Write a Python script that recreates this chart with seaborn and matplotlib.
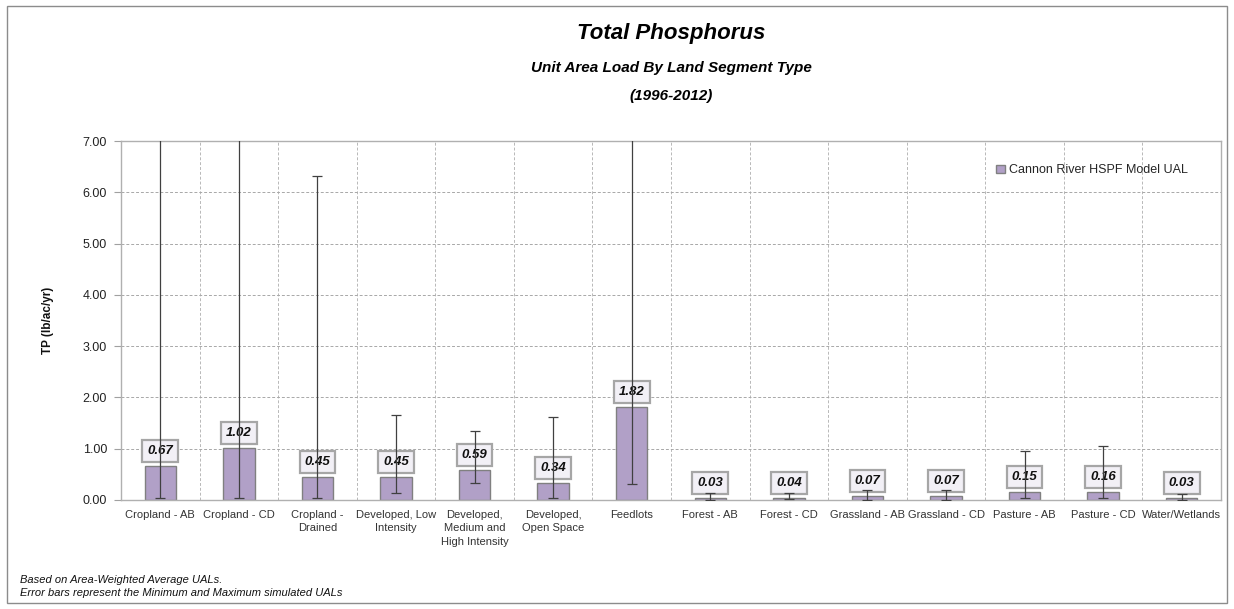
import numpy as np
import pandas as pd
import matplotlib
matplotlib.use("Agg")
import matplotlib.pyplot as plt
import seaborn as sns
from matplotlib.patches import Rectangle

categories = ["Cropland - AB", "Cropland - CD", "Cropland -\nDrained",
              "Developed, Low\nIntensity", "Developed,\nMedium and\nHigh Intensity",
              "Developed,\nOpen Space", "Feedlots", "Forest - AB", "Forest - CD",
              "Grassland - AB", "Grassland - CD", "Pasture - AB", "Pasture - CD",
              "Water/Wetlands"]
ual = [0.67, 1.02, 0.45, 0.45, 0.59, 0.34, 1.82, 0.03, 0.04, 0.07, 0.07, 0.15, 0.16, 0.03]
ual_min = [0.03, 0.03, 0.04, 0.14, 0.33, 0.04, 0.32, 0.00, 0.01, 0.00, 0.00, 0.03, 0.03, 0.00]
ual_max = [12.0, 12.0, 6.31, 1.65, 1.34, 1.62, 12.0, 0.13, 0.13, 0.20, 0.20, 0.95, 1.05, 0.12]
series_name = "Cannon River HSPF Model UAL"

sns.set_style("white")
plt.rcParams['font.family'] = ['Liberation Sans', 'DejaVu Sans']

W, H = 1234, 609
fig = plt.figure(figsize=(W / 100, H / 100), dpi=100)
fig.patch.set_facecolor("white")

left, right, top, bottom = 121, 1221, 141, 500
ax = fig.add_axes([left / W, 1 - bottom / H, (right - left) / W, (bottom - top) / H])

df = pd.DataFrame({"cat": categories, "ual": ual})
sns.barplot(data=df, x="cat", y="ual", color="#B1A0C7", edgecolor="#808080",
            linewidth=1.0, width=0.4, saturation=1, label=series_name, ax=ax, zorder=2)

x = np.arange(len(categories))
v = np.array(ual)
lo = v - np.array(ual_min)
hi = np.array(ual_max) - v
ax.errorbar(x, v, yerr=[lo, hi], fmt="none", ecolor="#404040", elinewidth=0.9,
            capsize=3.5, capthick=0.9, zorder=5)

for xi, val in zip(x, ual):
    ax.annotate(f"{val:.2f}", xy=(xi, val), xytext=(0, 9), textcoords="offset pixels",
                ha="center", va="bottom", fontsize=9.5, fontweight="bold", fontstyle="italic",
                color="#111111", zorder=4,
                bbox=dict(boxstyle="square,pad=0.38", fc="#F2F0F6", ec="#A6A6A6", lw=1.6))

ax.set_ylim(0, 7)
ax.set_xlim(-0.5, len(categories) - 0.5)
ax.set_yticks(np.arange(0, 8, 1))
ax.set_yticklabels([f"{t:.2f}" for t in np.arange(0, 8, 1)], fontsize=9, color="#222222")
ax.set_xticks(x)
ax.set_xticklabels(categories, fontsize=8, color="#333333", linespacing=1.45)
ax.set_xticks(np.arange(-0.5, len(categories), 1), minor=True)
ax.tick_params(axis="x", which="major", length=0, pad=7)
ax.tick_params(axis="x", which="minor", length=5, color="#A0A0A0", width=0.8)
ax.tick_params(axis="y", which="major", length=5, color="#A0A0A0", width=0.8, pad=5, left=True)
ax.grid(axis="y", which="major", color="#A8A8A8", linestyle=(0, (3, 2)), linewidth=0.7)
ax.grid(axis="x", which="minor", color="#B8B8B8", linestyle=(0, (3, 2)), linewidth=0.7)
ax.set_axisbelow(True)
for s in ax.spines.values():
    s.set_color("#B0B0B0")
    s.set_linewidth(1.0)
ax.set_xlabel("")
ax.set_ylabel("TP (lb/ac/yr)", fontsize=8.5, fontweight="bold", color="#111111", labelpad=21)

leg = ax.legend(loc="upper left", bbox_to_anchor=(990 / W, 1 - 158 / H),
                bbox_transform=fig.transFigure, frameon=False, fontsize=9,
                handlelength=0.7, handleheight=0.7, handletextpad=0.3, borderpad=0)

fig.text(671 / W, 1 - 34 / H, "Total Phosphorus", ha="center", va="center",
         fontsize=16, fontweight="bold", fontstyle="italic", color="#000000")
fig.text(671 / W, 1 - 68 / H, "Unit Area Load By Land Segment Type", ha="center", va="center",
         fontsize=11, fontweight="bold", fontstyle="italic", color="#000000")
fig.text(671 / W, 1 - 96 / H, "(1996-2012)", ha="center", va="center",
         fontsize=11, fontweight="bold", fontstyle="italic", color="#000000")

fig.text(20 / W, 1 - 580 / H, "Based on Area-Weighted Average UALs.", ha="left", va="center",
         fontsize=8, fontstyle="italic", color="#111111")
fig.text(20 / W, 1 - 593 / H, "Error bars represent the Minimum and Maximum simulated UALs",
         ha="left", va="center", fontsize=8, fontstyle="italic", color="#111111")

fig.patches.append(Rectangle((7 / W, 1 - 603 / H), (1227 - 7) / W, (603 - 6) / H,
                             transform=fig.transFigure, fill=False, ec="#8C8C8C", lw=1.0))

fig.savefig("out.png", dpi=100)
